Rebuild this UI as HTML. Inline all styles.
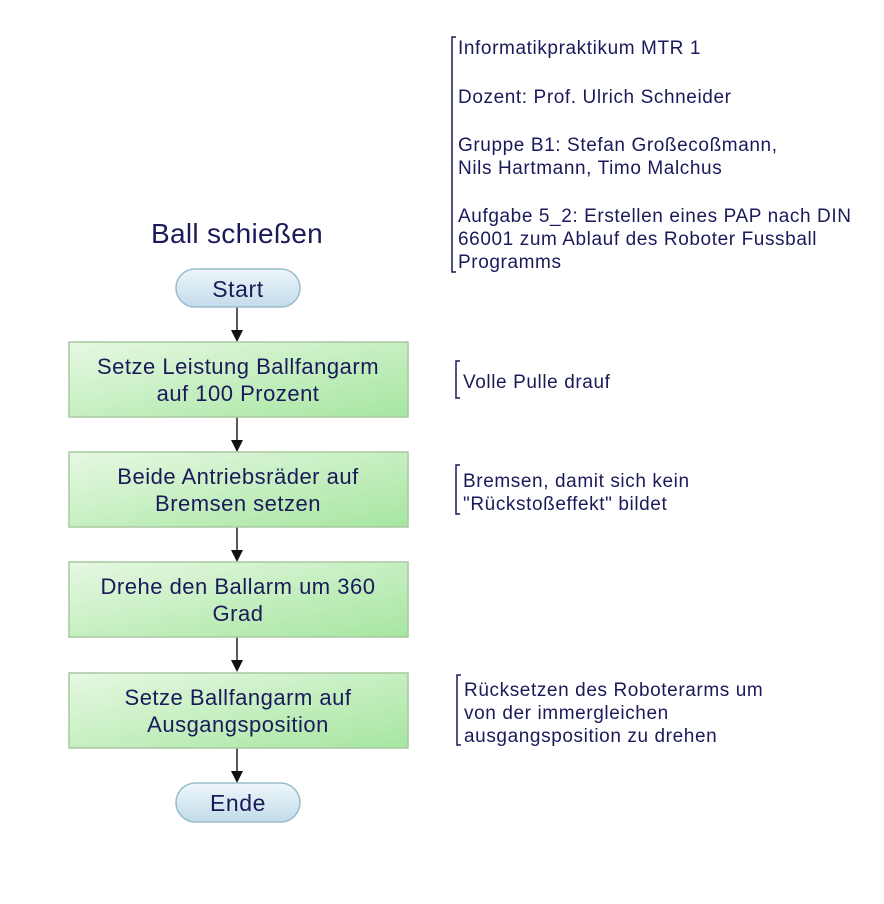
<!DOCTYPE html>
<html><head><meta charset="utf-8"><style>
html,body{margin:0;padding:0;background:#fff;}
svg text{font-family:"Liberation Sans",sans-serif;fill:#1a1a5a;}
</style></head><body>
<svg width="884" height="899" viewBox="0 0 884 899" xmlns="http://www.w3.org/2000/svg">
<defs>
<linearGradient id="g" x1="0" y1="0" x2="1" y2="1">
<stop offset="0" stop-color="#e6f8e2"/><stop offset="1" stop-color="#a6e6a0"/></linearGradient>
<linearGradient id="b" x1="0" y1="0" x2="0" y2="1">
<stop offset="0" stop-color="#eef6fb"/><stop offset="1" stop-color="#c2dcea"/></linearGradient>
</defs>
<text x="237" y="243" font-size="28" letter-spacing="0.3" text-anchor="middle">Ball schießen</text>
<g stroke="#222" stroke-width="1.5">
<line x1="237" y1="307" x2="237" y2="332"/><line x1="237" y1="417" x2="237" y2="442"/>
<line x1="237" y1="527" x2="237" y2="552"/><line x1="237" y1="637" x2="237" y2="662"/>
<line x1="237" y1="748" x2="237" y2="773"/></g>
<g fill="#111">
<path d="M231 330h12l-6 12z"/><path d="M231 440h12l-6 12z"/><path d="M231 550h12l-6 12z"/><path d="M231 660h12l-6 12z"/><path d="M231 771h12l-6 12z"/></g>
<rect x="176" y="269" width="124" height="38" rx="19" fill="url(#b)" stroke="#9bbccd" stroke-width="1.5"/>
<text x="238" y="297" font-size="23" letter-spacing="0.6" text-anchor="middle">Start</text>
<rect x="176" y="783" width="124" height="39" rx="19.5" fill="url(#b)" stroke="#9bbccd" stroke-width="1.5"/>
<text x="238" y="811" font-size="23" letter-spacing="0.6" text-anchor="middle">Ende</text>
<g fill="url(#g)" stroke="#a8c8a0" stroke-width="1.5">
<rect x="69" y="342" width="339" height="75"/><rect x="69" y="452" width="339" height="75"/>
<rect x="69" y="562" width="339" height="75"/><rect x="69" y="673" width="339" height="75"/></g>
<g font-size="22" letter-spacing="0.5" text-anchor="middle">
<text x="238" y="374">Setze Leistung Ballfangarm</text><text x="238" y="401">auf 100 Prozent</text>
<text x="238" y="484">Beide Antriebsräder auf</text><text x="238" y="511">Bremsen setzen</text>
<text x="238" y="594">Drehe den Ballarm um 360</text><text x="238" y="621">Grad</text>
<text x="238" y="705">Setze Ballfangarm auf</text><text x="238" y="732">Ausgangsposition</text>
</g>
<g stroke="#1a1a5a" stroke-width="1.5" fill="none">
<path d="M456 37h-4v235h4"/><path d="M460 361h-4v37h4"/><path d="M460 465h-4v49h4"/><path d="M461 675h-4v70h4"/></g>
<g font-size="19" letter-spacing="0.6">
<text x="458" y="54">Informatikpraktikum MTR 1</text>
<text x="458" y="103">Dozent: Prof. Ulrich Schneider</text>
<text x="458" y="151">Gruppe B1: Stefan Großecoßmann,</text>
<text x="458" y="174">Nils Hartmann, Timo Malchus</text>
<text x="458" y="222">Aufgabe 5_2: Erstellen eines PAP nach DIN</text>
<text x="458" y="245">66001 zum Ablauf des Roboter Fussball</text>
<text x="458" y="268">Programms</text>
<text x="463" y="388">Volle Pulle drauf</text>
<text x="463" y="487">Bremsen, damit sich kein</text>
<text x="463" y="510">"Rückstoßeffekt" bildet</text>
<text x="464" y="696">Rücksetzen des Roboterarms um</text>
<text x="464" y="719">von der immergleichen</text>
<text x="464" y="742">ausgangsposition zu drehen</text>
</g>
</svg>
</body></html>
